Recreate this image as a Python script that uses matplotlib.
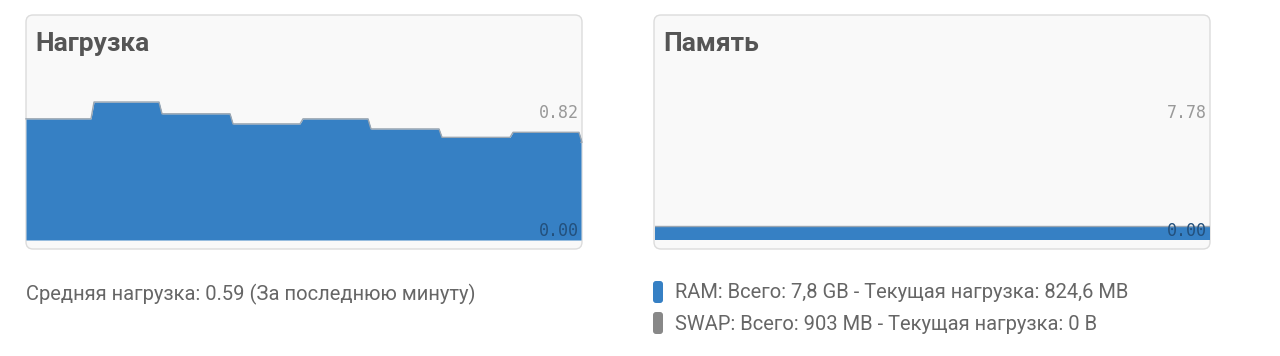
import matplotlib
matplotlib.use('Agg')
import matplotlib.pyplot as plt
from matplotlib.patches import FancyBboxPatch

# load average chart: time (5 px per unit) where each level starts, and the levels
load_start_t = [0, 13, 26.6, 40.8, 54.8, 68.4, 82.6, 96.8, 110.6]
load_levels = [0.72, 0.82, 0.75, 0.69, 0.72, 0.66, 0.61, 0.64, 0.58]
load_end_t = 111
load_max = 0.82

# memory chart (GB)
mem_t = [0, 111]
mem_used = [0.805, 0.805]
mem_total = 7.78

titles = ['Нагрузка', 'Память']
load_note = 'Средняя нагрузка: 0.59 (За последнюю минуту)'
legend_labels = ['RAM: Всего: 7,8 GB - Текущая нагрузка: 824,6 MB',
                 'SWAP: Всего: 903 MB - Текущая нагрузка: 0 B']
legend_colors = ['#3680c4', '#888888']

BLUE = '#3680c4'
W, H = 1280, 356
SANS = ['Roboto', 'DejaVu Sans']
MONO = 'DejaVu Sans Mono'

fig = plt.figure(figsize=(W / 100, H / 100), dpi=100)
fig.patch.set_facecolor('white')


def pixel_axes(z):
    # full-figure axes in pixel coordinates (y down)
    a = fig.add_axes([0, 0, 1, 1])
    a.set_xlim(0, W)
    a.set_ylim(H, 0)
    a.axis('off')
    a.set_zorder(z)
    return a


bg = pixel_axes(0)
cards = [(26, 582), (654, 1210)]
for (x0, x1), title in zip(cards, titles):
    bg.add_patch(FancyBboxPatch((x0, 15), x1 - x0, 234,
                                boxstyle='round,pad=0,rounding_size=7',
                                facecolor='#f9f9f9', edgecolor='#dcdcdc', lw=1))
    bg.text(x0 + 9, 44, title, fontsize=19, fontweight='bold', color='#555555',
            family=SANS, va='center', ha='left')


def step_points(starts, levels, end, ramp=0.6):
    xs, ys = [], []
    bounds = list(starts[1:]) + [end]
    for i, (s, e, v) in enumerate(zip(starts, bounds, levels)):
        xs += [s if i == 0 else s + ramp, e]
        ys += [v, v]
    return xs, ys


def chart_axes(x0, x1):
    ax = fig.add_axes([x0 / W, (H - 240) / H, (x1 - x0) / W, 138 / H])
    ax.patch.set_alpha(0)
    ax.axis('off')
    ax.set_zorder(1)
    return ax


# load chart
ax1 = chart_axes(26, 581)
lx, ly = step_points(load_start_t, load_levels, load_end_t)
ax1.fill_between(lx, 0, ly, color=BLUE, lw=0)
ax1.plot(lx, ly, color='#9aa6b2', lw=1, clip_on=False)
ax1.set_xlim(0, load_end_t)
ax1.set_ylim(0, load_max)

# memory chart
ax2 = chart_axes(655, 1210)
ax2.fill_between(mem_t, 0, mem_used, color=BLUE, lw=0)
ax2.plot(mem_t, mem_used, color='#9aa6b2', lw=1)
ax2.set_xlim(mem_t[0], mem_t[-1])
ax2.set_ylim(0, mem_total)

# overlay: value labels and bottom texts
lab = pixel_axes(2)
for x, top in [(579, f'{load_max:.2f}'), (1207, f'{mem_total:.2f}')]:
    lab.text(x, 113, top, fontsize=12, family=MONO, color='#999999',
             ha='right', va='center')
    lab.text(x, 231, '0.00', fontsize=12, family=MONO, color='#23507c',
             ha='right', va='center')

lab.text(26, 294, load_note, fontsize=14.5, family=SANS, color='#666666',
         ha='left', va='center')
for i, (label, col) in enumerate(zip(legend_labels, legend_colors)):
    y = 292 + 31 * i
    lab.add_patch(FancyBboxPatch((653, y - 11), 10, 22,
                                 boxstyle='round,pad=0,rounding_size=3',
                                 facecolor=col, edgecolor='none'))
    lab.text(675, y + 1, label, fontsize=14.5, family=SANS, color='#666666',
             ha='left', va='center')

fig.savefig('out.png', dpi=100)
